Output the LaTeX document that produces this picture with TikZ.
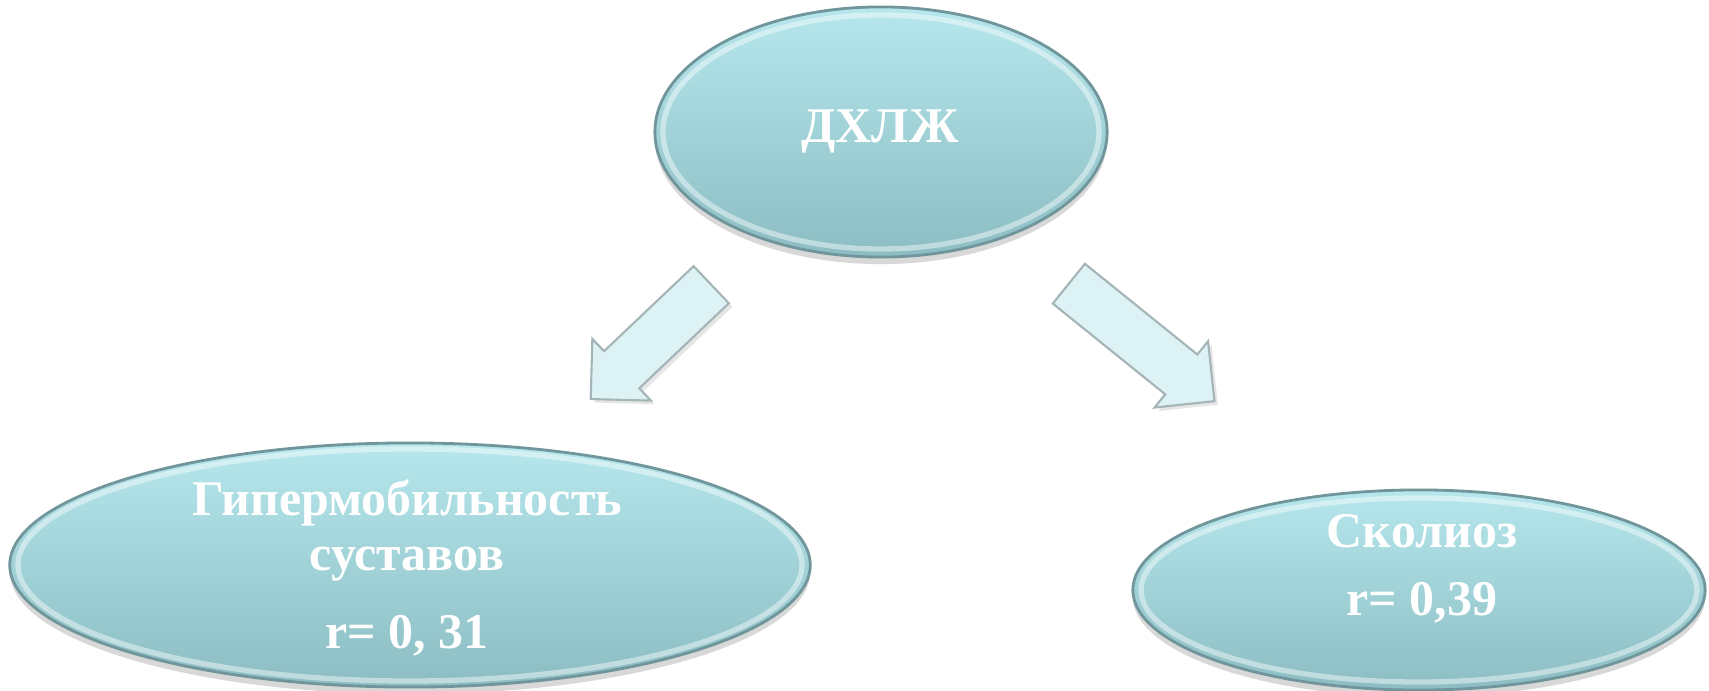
\documentclass[tikz,border=0pt]{standalone}
\usepackage{fontspec}
\setmainfont{Liberation Serif}
\usetikzlibrary{shapes.geometric,shapes.arrows,shadows}

\definecolor{bubtop}{RGB}{182,231,236}
\definecolor{bubbot}{RGB}{140,189,195}
\definecolor{bubedge}{RGB}{112,150,155}
\definecolor{arrfill}{RGB}{221,242,245}
\definecolor{arredge}{RGB}{165,180,183}

\tikzset{
  bubble/.style={ellipse, top color=bubtop, bottom color=bubbot, draw=bubedge,
    line width=0.8pt, inner sep=0pt,
    drop shadow={shadow xshift=0pt, shadow yshift=-2pt, opacity=.3}},
  rim/.style={draw=white, opacity=.45, line width=1.5pt},
  bigarrow/.style={single arrow, fill=arrfill, draw=arredge, line width=0.6pt,
    inner sep=0pt, inner ysep=0.245cm, minimum width=0pt,
    single arrow head extend=0.17cm,
    drop shadow={shadow xshift=1pt, shadow yshift=-1pt, opacity=.2}},
  lbl/.style={text=white, font=\bfseries\fontsize{14.2}{15.6}\selectfont,
    align=center, inner sep=0pt}
}

\begin{document}
\begin{tikzpicture}[x=0.01cm, y=-0.01cm]
\useasboundingbox[fill=white] (0,0) rectangle (1709,691);

% bubbles
\node[bubble, minimum width=4.52cm, minimum height=2.50cm] (dhlzh) at (881,132) {};
\node[bubble, minimum width=8.00cm, minimum height=2.44cm] (gipm)  at (410,565) {};
\node[bubble, minimum width=5.72cm, minimum height=2.00cm] (skol)  at (1419,590) {};

\draw[rim] (dhlzh.center) ellipse [x radius=218, y radius=117];
\draw[rim] (gipm.center)  ellipse [x radius=392, y radius=116];
\draw[rim] (skol.center)  ellipse [x radius=278, y radius=92];

% block arrows
\node[bigarrow, minimum height=1.66cm, rotate=223.5, anchor=tail] (arrL) at (712,284) {};
\node[bigarrow, minimum height=1.87cm, rotate=-38.9, anchor=tail] (arrR) at (1068,283) {};

% labels (base = last line)
\node[lbl, anchor=base] (dhlzh-t) at (880,143) {ДХЛЖ};
\node[lbl, anchor=base] (gipm-t)  at (407,648) {Гипермобильность\\суставов\\[6.5pt] r= 0, 31};
\node[lbl, anchor=base] (skol-t)  at (1422,615) {Сколиоз\\[3.5pt] r= 0,39};
\end{tikzpicture}
\end{document}
